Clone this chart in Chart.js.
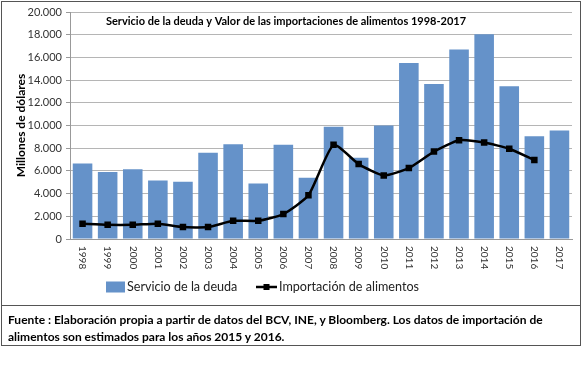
<!DOCTYPE html>
<html>
<head>
<meta charset="utf-8">
<script src="https://cdn.jsdelivr.net/npm/chart.js@4/dist/chart.umd.min.js"></script>
<style>
  html, body { margin: 0; padding: 0; background: #fff; }
  #wrap { position: relative; width: 585px; height: 366px; }
  #cv { position: absolute; left: 0; top: 0; width: 585px; height: 305px; }
  #frame { position: absolute; left: 1px; top: 1px; width: 580px; height: 345px; box-sizing: border-box; border: 1px solid #555; pointer-events: none; }
  #divider { position: absolute; left: 1px; top: 305px; width: 580px; height: 1px; background: #555; }
  #note { position: absolute; left: 8px; top: 311px; width: 565px; font-family: Lato, "Open Sans", sans-serif; font-weight: bold; font-size: 12px; line-height: 17px; color: #000; }
</style>
</head>
<body>
<div id="wrap">
  <div id="cv"><canvas id="c"></canvas></div>
  <div id="frame"></div>
  <div id="divider"></div>
  <div id="note">Fuente : Elaboración propia a partir de datos del BCV, INE, y Bloomberg. Los datos de importación de alimentos son estimados para los años 2015 y 2016.</div>
</div>
<script>
const years = ['1998','1999','2000','2001','2002','2003','2004','2005','2006','2007','2008','2009','2010','2011','2012','2013','2014','2015','2016','2017'];
const servicioDeuda = [6650, 5900, 6150, 5150, 5050, 7600, 8350, 4900, 8300, 5400, 9900, 7150, 10000, 15500, 13650, 16700, 18050, 13450, 9050, 9550];
const importacionAlimentos = [1350, 1250, 1250, 1350, 1050, 1050, 1600, 1600, 2200, 3850, 8300, 6600, 5600, 6250, 7700, 8700, 8500, 7950, 6950, null];
const yTickLabels = ['0','2.000','4.000','6.000','8.000','10.000','12.000','14.000','16.000','18.000','20.000'];
const chartTitle = 'Servicio de la deuda y Valor de las importaciones de alimentos 1998-2017';
const yAxisTitle = 'Millones de dólares';

const BAR_COLOR = '#6592c9';
const FONT = 'Lato, "Open Sans", sans-serif';

const customDraw = {
  id: 'customDraw',
  afterDraw(chart) {
    const ctx = chart.ctx;
    const xs = chart.scales.x;
    // rotated x labels (clockwise)
    ctx.save();
    ctx.fillStyle = '#333';
    ctx.font = '10px ' + FONT;
    ctx.textAlign = 'left';
    ctx.textBaseline = 'middle';
    chart.data.labels.forEach((lab, i) => {
      const x = xs.getPixelForTick(i);
      ctx.save();
      ctx.translate(x, xs.top + 7);
      ctx.rotate(Math.PI / 2);
      ctx.fillText(lab, 0, 0);
      ctx.restore();
    });
    ctx.restore();

    // title
    ctx.save();
    ctx.fillStyle = '#000';
    ctx.font = 'bold 11px ' + FONT;
    ctx.textAlign = 'center';
    ctx.textBaseline = 'middle';
    ctx.fillText(chartTitle, 286, 21);
    ctx.restore();

    // legend
    const ds = chart.data.datasets;
    const barDs = ds.find(d => d.type === 'bar');
    const lineDs = ds.find(d => d.type === 'line');
    ctx.save();
    ctx.font = '12.6px ' + FONT;
    ctx.textBaseline = 'middle';
    ctx.textAlign = 'left';
    const ly = 287;
    ctx.fillStyle = barDs.backgroundColor;
    ctx.fillRect(106, ly - 5.5, 19, 11);
    ctx.fillStyle = '#222';
    ctx.fillText(barDs.label, 127, ly);
    ctx.strokeStyle = lineDs.borderColor;
    ctx.lineWidth = 2.5;
    ctx.beginPath();
    ctx.moveTo(256, ly);
    ctx.lineTo(277, ly);
    ctx.stroke();
    ctx.fillStyle = lineDs.borderColor;
    ctx.fillRect(263.5, ly - 3, 6, 6);
    ctx.fillStyle = '#222';
    ctx.fillText(lineDs.label, 279, ly);
    ctx.restore();
  }
};

new Chart(document.getElementById('c'), {
  type: 'bar',
  data: {
    labels: years,
    datasets: [
      {
        type: 'line',
        label: 'Importación de alimentos',
        data: importacionAlimentos,
        borderColor: '#000',
        backgroundColor: '#000',
        borderWidth: 2.5,
        pointStyle: 'rect',
        pointRadius: 4.6,
        pointBackgroundColor: '#000',
        pointBorderWidth: 0,
        tension: 0.18,
        order: 0
      },
      {
        type: 'bar',
        label: 'Servicio de la deuda',
        data: servicioDeuda,
        backgroundColor: BAR_COLOR,
        barPercentage: 0.78,
        categoryPercentage: 1.0,
        order: 1
      }
    ]
  },
  options: {
    responsive: true,
    maintainAspectRatio: false,
    animation: false,
    devicePixelRatio: 1,
    layout: { padding: { left: 0, right: 13, top: 12, bottom: 0 } },
    plugins: {
      legend: { display: false },
      tooltip: { enabled: false },
      title: { display: false }
    },
    scales: {
      x: {
        grid: { display: false },
        border: { display: true, color: '#999', width: 1 },
        ticks: { display: false },
        afterFit(scale) { scale.height = 66; }
      },
      y: {
        min: 0,
        max: 20000,
        ticks: {
          stepSize: 2000,
          padding: 4,
          color: '#333',
          font: { family: FONT, size: 11 },
          callback: (v, i) => yTickLabels[i]
        },
        grid: { color: '#b5b5b5', tickColor: '#999', tickLength: 4, lineWidth: 1 },
        border: { display: true, color: '#999' },
        title: {
          display: true,
          text: yAxisTitle,
          color: '#000',
          font: { family: FONT, size: 12, weight: 'bold' },
          padding: { top: 14, bottom: 0 }
        },
        afterFit(scale) { scale.width = 70; }
      }
    }
  },
  plugins: [customDraw]
});
</script>
</body>
</html>
